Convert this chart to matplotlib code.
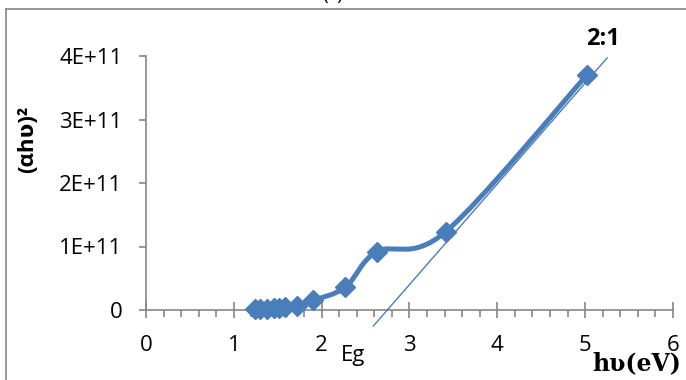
import numpy as np
import matplotlib
matplotlib.use("Agg")
import matplotlib.pyplot as plt
from matplotlib.path import Path
from matplotlib.patches import PathPatch
from matplotlib.lines import Line2D
from matplotlib.ticker import MultipleLocator, FixedFormatter, FixedLocator

# ---- data ----
photon_energy = [1.24, 1.30, 1.38, 1.46, 1.51, 1.58, 1.72, 1.90, 2.27, 2.63, 3.41, 5.02]
alpha_hv_sq = [0.01e11, 0.015e11, 0.02e11, 0.025e11, 0.03e11, 0.04e11, 0.07e11,
               0.15e11, 0.36e11, 0.92e11, 1.23e11, 3.70e11]
tangent_x = [2.59, 5.25]
tangent_y = [-0.25e11, 3.97e11]
y_ticks = [0, 1e11, 2e11, 3e11, 4e11]
y_tick_labels = ["0", "1E+11", "2E+11", "3E+11", "4E+11"]
x_ticks = [0, 1, 2, 3, 4, 5, 6]
x_tick_labels = ["0", "1", "2", "3", "4", "5", "6"]

BLUE = "#4a7ebb"
GRAY = "#868686"
FONT = "Open Sans"

fig = plt.figure(figsize=(6.86, 3.80), dpi=100)
ax = fig.add_axes([146/686, 1-310/380, (673-146)/686, (310-56)/380])
ax.set_xlim(0, 6)
ax.set_ylim(0, 4e11)

# smoothed line (Excel-style cubic Bezier through points)
xs = np.array(photon_energy)
ys = np.array(alpha_hv_sq)
n = len(xs)
verts = [(xs[0], ys[0])]
codes = [Path.MOVETO]
for i in range(n - 1):
    p0 = np.array([xs[max(i-1, 0)], ys[max(i-1, 0)]])
    p1 = np.array([xs[i], ys[i]])
    p2 = np.array([xs[i+1], ys[i+1]])
    p3 = np.array([xs[min(i+2, n-1)], ys[min(i+2, n-1)]])
    c1 = p1 + (p2 - p0) / 6.0
    c2 = p2 - (p3 - p1) / 6.0
    verts += [tuple(c1), tuple(c2), tuple(p2)]
    codes += [Path.CURVE4] * 3
patch = PathPatch(Path(verts, codes), facecolor="none", edgecolor=BLUE,
                  lw=3.6, capstyle="round", joinstyle="round", zorder=3)
ax.add_patch(patch)
ax.plot(xs, ys, ls="none", marker="D", ms=10, color=BLUE, mec=BLUE, zorder=4,
        clip_on=False)

# tangent line
ax.plot(tangent_x, tangent_y, color=BLUE, lw=1.0, zorder=5, clip_on=False)

# axes styling
for s in ["top", "right"]:
    ax.spines[s].set_visible(False)
ax.spines["left"].set_color(GRAY)
ax.spines["bottom"].set_color(GRAY)
ax.spines["left"].set_linewidth(1.2)
ax.spines["bottom"].set_linewidth(1.2)

ax.yaxis.set_major_locator(FixedLocator(y_ticks))
ax.yaxis.set_major_formatter(FixedFormatter(y_tick_labels))
ax.xaxis.set_major_locator(FixedLocator(x_ticks))
ax.xaxis.set_major_formatter(FixedFormatter(x_tick_labels))
ax.xaxis.set_minor_locator(MultipleLocator(0.2))
ax.tick_params(axis="y", direction="out", length=5, width=1.2, color=GRAY,
               labelsize=16, pad=12)
ax.tick_params(axis="x", which="major", direction="inout", length=12, width=1.2,
               color=GRAY, labelsize=16, pad=12)
ax.tick_params(axis="x", which="minor", direction="out", length=5, width=1.2,
               color=GRAY)
for lab in ax.get_xticklabels() + ax.get_yticklabels():
    lab.set_fontfamily(FONT)

# labels / annotations
fig.text(28/686, 1-139/380, "(\u03b1h\u028b)\u00b2", rotation=90, ha="center",
         va="center", fontsize=16, fontweight="bold", family=[FONT, "DejaVu Sans"])
fig.text(353/686, 1-355/380, "Eg", ha="center", va="center", fontsize=16,
         family=FONT)
fig.text(637/686, 1-363/380, "h\u028b(eV)", ha="center", va="center", fontsize=17,
         fontweight="bold", family=["DejaVu Serif"])
fig.text(603/686, 1-39/380, "2:1", ha="center", va="center", fontsize=17,
         fontweight="bold", family=FONT)
fig.text(333/686, 1-4/380, "(c)", ha="center", va="bottom", fontsize=14,
         family=FONT)

# chart area border (left and top visible)
fig.add_artist(Line2D([6/686, 6/686], [0, 1-9/380], transform=fig.transFigure,
                      color=GRAY, lw=1.2))
fig.add_artist(Line2D([6/686, 1], [1-9/380, 1-9/380], transform=fig.transFigure,
                      color=GRAY, lw=1.2))

fig.savefig("out.png", dpi=100)
